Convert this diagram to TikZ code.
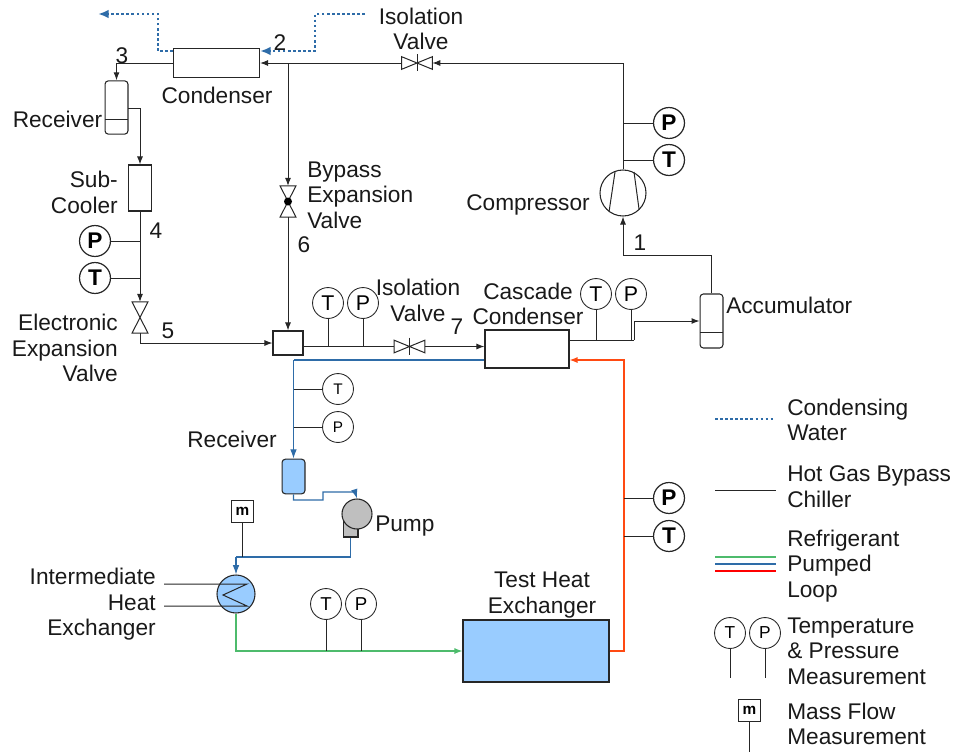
\documentclass[tikz,border=0pt]{standalone}
\usepackage{fontspec}
\setmainfont{Liberation Sans}
\usepackage{tikz}
\usetikzlibrary{arrows.meta}
\definecolor{waterblue}{HTML}{2E6CA8}
\definecolor{loopgreen}{HTML}{4DBB6C}
\definecolor{loopred}{HTML}{FF4A12}
\definecolor{fillblue}{HTML}{99CCFF}
\definecolor{pumpgrey}{HTML}{BFBFBF}
\definecolor{pipe}{HTML}{262626}
\tikzset{
  lbl/.style={font=\fontsize{17}{19.2}\selectfont, inner sep=0pt, text=black!90, align=center},
  box/.style={draw=pipe, rectangle, inner sep=0pt, line width=0.8pt},
  tank/.style={box, rounded corners=2.5pt},
  valve/.style={rectangle, inner sep=0pt},
  gauge/.style={draw=pipe, circle, inner sep=0pt, minimum size=23.2pt, font=\fontsize{16}{16}\selectfont, fill=white, line width=0.65pt},
  gaugebold/.style={gauge, font=\fontsize{17}{17}\selectfont\bfseries, line width=0.9pt},
  gaugesmall/.style={gauge, font=\fontsize{11.5}{12}\selectfont},
  massbox/.style={box, minimum size=17pt, font=\fontsize{11.5}{12}\selectfont\bfseries},
  pipeline/.style={draw=pipe, line width=0.75pt},
  flow/.style={pipeline, -{Latex[length=6pt,width=4.5pt]}},
  waterline/.style={draw=waterblue, line width=1.8pt, dash pattern=on 1.9pt off 1.9pt},
  water/.style={waterline, -{Latex[length=8pt,width=6.5pt]}},
  blueline/.style={draw=waterblue, line width=0.9pt},
  blueflow/.style={blueline, -{Latex[length=7pt,width=5pt]}},
  greenflow/.style={draw=loopgreen, line width=0.9pt, -{Latex[length=6pt,width=4.5pt]}},
  redflow/.style={draw=loopred, line width=0.9pt, -{Latex[length=6pt,width=4.5pt]}},
}
\newcommand{\upvalve}[1]{\draw [pipeline] (#1.north west) -- (#1.south east) -- (#1.south west) -- (#1.north east) -- cycle;}
\newcommand{\sidevalve}[1]{\draw [pipeline] (#1.north west) -- (#1.south east) -- (#1.north east) -- (#1.south west) -- cycle;}
\begin{document}
\begin{tikzpicture}[x=0.75pt,y=-0.75pt]
  \useasboundingbox (0,0) rectangle (955,753);

  % chiller loop parts
  \node [box, minimum width=64.5pt, minimum height=22pt] (condenser) at (216.5,63) {};
  \node [tank, minimum width=17.2pt, minimum height=40pt] (receiverA) at (116.5,107.5) {};
  \node [box, minimum width=17.2pt, minimum height=34.5pt] (subcooler) at (140,188) {};
  \node [valve, minimum width=11.5pt, minimum height=23pt] (expValve) at (140,317.5) {};
  \node [valve, minimum width=11.5pt, minimum height=23pt] (bypassValve) at (288,201.5) {};
  \node [box, minimum width=22.5pt, minimum height=18pt] (mixer) at (288,343) {};
  \node [valve, minimum width=22.5pt, minimum height=9pt] (isoValveA) at (417,63) {};
  \node [valve, minimum width=22.5pt, minimum height=9pt] (isoValveB) at (409.5,346.5) {};
  \node [box, minimum width=63pt, minimum height=28.5pt] (cascade) at (527,349) {};
  \node [tank, minimum width=17.2pt, minimum height=40.5pt] (accumulator) at (711.5,321) {};
  \node [draw=pipe, circle, inner sep=0pt, minimum size=34.5pt, line width=0.8pt] (compressor) at (623,193) {};

  % refrigerant loop parts
  \node [tank, fill=fillblue, minimum width=17.2pt, minimum height=26pt] (receiverB) at (293.5,476.5) {};
  \node [box, fill=pumpgrey, minimum width=11.2pt, minimum height=18pt] (pumpBase) at (350.5,525) {};
  \node [draw=pipe, circle, fill=pumpgrey, inner sep=0pt, minimum size=22.5pt, line width=0.8pt] (pump) at (357,514) {};
  \node [draw=pipe, circle, fill=fillblue, inner sep=0pt, minimum size=28.5pt, line width=0.8pt] (ihx) at (236,594) {};
  \node [box, fill=fillblue, minimum width=109.5pt, minimum height=46.5pt] (testHx) at (536,651) {};

  % gauges
  \node [gaugebold] (pSub) at (95,241) {P};
  \node [gaugebold] (tSub) at (95,278) {T};
  \node [gaugebold] (pComp) at (669,123) {P};
  \node [gaugebold] (tComp) at (669,160) {T};
  \node [gauge] (tMix) at (328,303) {T};
  \node [gauge] (pMix) at (363,303) {P};
  \node [gauge] (tCas) at (596,294) {T};
  \node [gauge] (pCas) at (631,294) {P};
  \node [gaugesmall] (tBlue) at (338,389) {T};
  \node [gaugesmall] (pBlue) at (338,427) {P};
  \node [gaugebold] (pRed) at (669,498) {P};
  \node [gaugebold] (tRed) at (669,536) {T};
  \node [gauge, font=\fontsize{14}{14}\selectfont] (tGreen) at (326,604) {T};
  \node [gauge, font=\fontsize{14}{14}\selectfont] (pGreen) at (361,604) {P};
  \node [massbox] (massFlow) at (242.5,511.5) {m};

  % junctions
  \coordinate (waterInA) at (365,14);
  \coordinate (waterInB) at (315,14);
  \coordinate (waterOutA) at (158,14);
  \coordinate (waterOutB) at (98,14);
  \coordinate (recvTurn) at (116.5,63);
  \coordinate (subTurn) at (140,108);
  \coordinate (bypassTee) at (288,63);
  \coordinate (topCorner) at (623,63);
  \coordinate (suction) at (711.5,255);
  \coordinate (expTurn) at (140,343);
  \coordinate (accTurn) at (634,321);
  \coordinate (casOut) at (634,340);
  \coordinate (blueTurn) at (293.5,360);
  \coordinate (redTurn) at (624,360);
  \coordinate (redBottom) at (624,651);
  \coordinate (pumpTurn) at (350.5,557);
  \coordinate (ihxTurn) at (236,557);
  \coordinate (greenTurn) at (236,651);
  \coordinate (hxInA) at (164,584);
  \coordinate (hxInB) at (164,606);
  \coordinate (hxEndA) at (247,584);
  \coordinate (hxMid) at (223,595);
  \coordinate (hxEndB) at (247,606);

  % symbols inside parts
  \upvalve{expValve}
  \upvalve{bypassValve}
  \sidevalve{isoValveA}
  \sidevalve{isoValveB}
  \draw [pipeline] (417,54) to (417,71);
  \draw [pipeline] (409.5,337.5) to (409.5,354.5);
  \fill [black] (bypassValve) circle (3pt);
  \draw [pipeline] (105,119) to (128,119);
  \draw [pipeline] (700,332) to (723,332);
  \draw [pipeline] (615,172) to (609,212);
  \draw [pipeline] (634,172) to (639,209);

  % water
  \draw [water] (waterInA) -- (waterInB) -- (waterInB |- 0,51) -- ([yshift=9pt]condenser.east);
  \draw [water] ([yshift=9pt]condenser.west) -- (waterOutA |- 0,51) -- (waterOutA) -- (waterOutB);

  % chiller pipes
  \draw [pipeline] (condenser.west) -- (recvTurn);
  \draw [flow] (recvTurn) -- (receiverA.north);
  \draw [flow] (128,108) -- (subTurn) -- (subcooler.north);
  \draw [flow] (subcooler.south) -- (expValve.north);
  \draw [pipeline] (pSub) -- (140,241);
  \draw [pipeline] (tSub) -- (140,278);
  \draw [flow] (expValve.south) -- (expTurn) -- (mixer.west);
  \draw [flow] (bypassTee) -- (bypassValve.north);
  \draw [flow] (bypassValve.south) -- (mixer.north);
  \draw [flow] (isoValveA.west) -- (condenser.east);
  \draw [flow] (topCorner) -- (isoValveA.east);
  \draw [pipeline] (compressor.north) -- (topCorner);
  \draw [pipeline] (pComp) -- (623,123);
  \draw [pipeline] (tComp) -- (623,160);
  \draw [pipeline] ([yshift=-2.625pt]mixer.east) -- (isoValveB.west);
  \draw [pipeline] (tMix) -- (328,346.5);
  \draw [pipeline] (pMix) -- (363,346.5);
  \draw [flow] (isoValveB.east) -- ([yshift=1.875pt]cascade.west);
  \draw [pipeline] ([yshift=6.75pt]cascade.east) -- (casOut);
  \draw [flow] (casOut) -- (accTurn) -- (accumulator.west);
  \draw [pipeline] (tCas) -- (596,340);
  \draw [pipeline] (pCas) -- (631,340);
  \draw [pipeline] (accumulator.north) -- (suction);
  \draw [flow] (suction) -- (623,255) -- (compressor.south);

  % refrigerant pipes
  \draw [blueline] ([yshift=-8.25pt]cascade.west) -- (blueTurn);
  \draw [blueflow] (blueTurn) -- (receiverB.north);
  \draw [pipeline] (293.5,389) -- (tBlue);
  \draw [pipeline] (293.5,427) -- (pBlue);
  \draw [blueflow] (receiverB.south) -- (293.5,500) -- (323,500) -- (323,492) -- (355,492) -- (pump.north);
  \draw [blueline] (pumpBase.south) -- (pumpTurn) -- (ihxTurn);
  \draw [blueflow] (ihxTurn) -- (ihx.north);
  \draw [pipeline] (massFlow.south) -- (242.5,557);
  \draw [pipeline] (hxInA) -- (hxEndA) -- (hxMid) -- (hxEndB) -- (hxInB);
  \draw [greenflow] (ihx.south) -- (greenTurn) -- (testHx.west);
  \draw [pipeline] (tGreen) -- (326,651);
  \draw [pipeline] (pGreen) -- (361,651);
  \draw [redflow] (testHx.east) -- (redBottom) -- (redTurn) -- ([yshift=-8.25pt]cascade.east);
  \draw [pipeline] (624,498) -- (pRed);
  \draw [pipeline] (624,536) -- (tRed);

  % labels
  \node [lbl] (isoTextA) at (421,29) {Isolation\\Valve};
  \node [lbl] (ptTwo) at (280,43) {2};
  \node [lbl] (ptThree) at (122,56) {3};
  \node [lbl] (condText) at (217,95) {Condenser};
  \node [lbl] (recvTextA) at (57.5,119) {Receiver};
  \node [lbl, align=right, anchor=east] (subText) at (118,192.5) {Sub-\\Cooler};
  \node [lbl] (ptFour) at (156,231) {4};
  \node [lbl] (ptFive) at (168,331) {5};
  \node [lbl] (ptSix) at (304,245) {6};
  \node [lbl] (ptSeven) at (457,327) {7};
  \node [lbl] (ptOne) at (640,243) {1};
  \node [lbl, align=left, anchor=west] (bypassText) at (307,195) {Bypass\\Expansion\\Valve};
  \node [lbl] (compText) at (528,205) {Compressor};
  \node [lbl, align=right, anchor=east] (expText) at (118,348) {Electronic\\Expansion\\Valve};
  \node [lbl] (isoTextB) at (418,300.5) {Isolation\\Valve};
  \node [lbl] (casText) at (528,304) {Cascade\\Condenser};
  \node [lbl, anchor=west] (accText) at (726,305) {Accumulator};
  \node [lbl] (recvTextB) at (232,439) {Receiver};
  \node [lbl, anchor=west] (pumpText) at (375,526) {Pump};
  \node [lbl, align=right, anchor=east] (ihxText) at (156,604.5) {Intermediate\\Heat\\Exchanger};
  \node [lbl] (testText) at (542,595) {Test Heat\\Exchanger};

  % legend
  \coordinate (keyWaterA) at (715,419);
  \coordinate (keyWaterB) at (775,419);
  \coordinate (keyGasA) at (715,490);
  \coordinate (keyGasB) at (776,490);
  \coordinate (keyGreenA) at (715,557);
  \coordinate (keyGreenB) at (776,557);
  \coordinate (keyBlueA) at (715,564);
  \coordinate (keyBlueB) at (776,564);
  \coordinate (keyRedA) at (715,571);
  \coordinate (keyRedB) at (776,571);
  \coordinate (keyT) at (730,678);
  \coordinate (keyP) at (765,678);
  \coordinate (keyM) at (749.5,752);
  \draw [waterline] (keyWaterA) -- (keyWaterB);
  \draw [pipeline] (keyGasA) -- (keyGasB);
  \draw [draw=loopgreen, line width=1pt] (keyGreenA) -- (keyGreenB);
  \draw [blueline] (keyBlueA) -- (keyBlueB);
  \draw [draw=red, line width=0.9pt] (keyRedA) -- (keyRedB);
  \node [gaugesmall, font=\fontsize{13}{13}\selectfont] (tKey) at (730,633) {T};
  \node [gaugesmall, font=\fontsize{13}{13}\selectfont] (pKey) at (765,633) {P};
  \node [massbox] (mKey) at (749.5,710.5) {m};
  \draw [pipeline] (tKey) -- (keyT);
  \draw [pipeline] (pKey) -- (keyP);
  \draw [pipeline] (mKey) -- (keyM);
  \node [lbl, align=left, anchor=west] (keyWaterText) at (787,420) {Condensing\\Water};
  \node [lbl, align=left, anchor=west] (keyGasText) at (787,486.5) {Hot Gas Bypass\\Chiller};
  \node [lbl, align=left, anchor=west] (keyLoopText) at (787,566) {Refrigerant\\Pumped\\Loop};
  \node [lbl, align=left, anchor=west] (keyGaugeText) at (787,651) {Temperature\\\& Pressure\\Measurement};
  \node [lbl, align=left, anchor=west] (keyMassText) at (787,724) {Mass Flow\\Measurement};
\end{tikzpicture}
\end{document}
